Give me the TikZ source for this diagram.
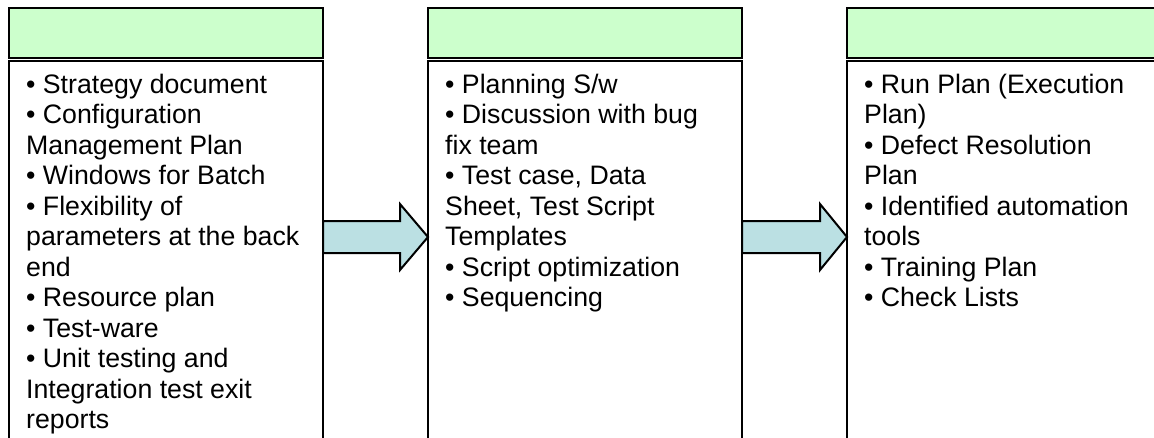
\documentclass[tikz,border=0pt]{standalone}
\usepackage{fontspec}
\setmainfont{Liberation Sans}
\definecolor{hdrgreen}{HTML}{CCFFCC}
\definecolor{arrowblue}{HTML}{BBE0E3}
\begin{document}
\begin{tikzpicture}[x=1pt,y=-1pt,
  box/.style={draw=black,line width=2pt},
  hdr/.style={box,fill=hdrgreen},
  blockarrow/.style={draw=black,line width=2pt,fill=arrowblue,line join=miter},
  txt/.style={anchor=base west,inner sep=0pt,font=\fontsize{26.7}{30.5}\selectfont}]
\useasboundingbox (0,0) rectangle (1154,437);
\begin{scope}
\clip (0,0) rectangle (1154,437);
% headers
\draw[hdr] (9,8) rectangle (323,58) coordinate (h1);
\draw[hdr] (428,8) rectangle (742,58) coordinate (h2);
\draw[hdr] (847,8) rectangle (1170,58) coordinate (h3);
% bodies
\draw[box] (9,61) rectangle (323,460) coordinate (b1);
\draw[box] (428,61) rectangle (742,460) coordinate (b2);
\draw[box] (847,61) rectangle (1170,460) coordinate (b3);
% arrows
\draw[blockarrow] (323,221) -- (400,221) -- (400,204) -- (428,237) -- (400,270) -- (400,253) -- (323,253) -- cycle;
\draw[blockarrow] (742,221) -- (820,221) -- (820,204) -- (847,237) -- (820,270) -- (820,253) -- (742,253) -- cycle;
\end{scope}
% texts
\node[txt] (t1) at (26,93) {\parbox[t]{300pt}{\raggedright
• Strategy document\\
• Configuration\\
Management Plan\\
• Windows for Batch\\
• Flexibility of\\
parameters at the back\\
end\\
• Resource plan\\
• Test-ware\\
• Unit testing and\\
Integration test exit\\
reports}};
\node[txt] (t2) at (445,93) {\parbox[t]{300pt}{\raggedright
• Planning S/w\\
• Discussion with bug\\
fix team\\
• Test case, Data\\
Sheet, Test Script\\
Templates\\
• Script optimization\\
• Sequencing}};
\node[txt] (t3) at (864,93) {\parbox[t]{300pt}{\raggedright
• Run Plan (Execution\\
Plan)\\
• Defect Resolution\\
Plan\\
• Identified automation\\
tools\\
• Training Plan\\
• Check Lists}};
\end{tikzpicture}
\end{document}
